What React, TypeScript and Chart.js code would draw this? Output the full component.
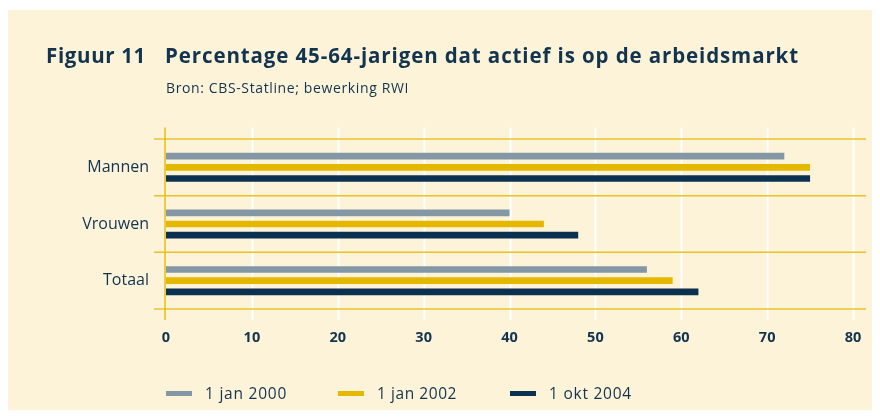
import { useEffect, useRef } from "react";
import { Chart, registerables } from "chart.js";

Chart.register(...registerables);

// ---- data ----
const categories = ["Mannen", "Vrouwen", "Totaal"];
const seriesLabels = ["1 jan 2000", "1 jan 2002", "1 okt 2004"];
const values2000 = [72, 40, 56];
const values2002 = [75, 44, 59];
const values2004 = [75, 48, 62];
const xTicks = [0, 10, 20, 30, 40, 50, 60, 70, 80];
const titleNumber = "Figuur 11";
const titleText = "Percentage 45-64-jarigen dat actief is op de arbeidsmarkt";
const sourceText = "Bron: CBS-Statline; bewerking RWI";

// ---- styles ----
const CREAM = "#FCF3D9";
const TEXT = "#12344F";
const GREY = "#8497A5";
const GOLD = "#E5B800";
const NAVY = "#0C3050";
const FONT = "'Open Sans', 'DejaVu Sans', sans-serif";
const W = 872;
const H = 408;

function fitText(ctx: CanvasRenderingContext2D, text: string, x: number, y: number, width: number) {
  ctx.save();
  (ctx as any).letterSpacing = "0px";
  let w = ctx.measureText(text).width;
  if (w < width && text.length > 1) {
    (ctx as any).letterSpacing = ((width - w) / text.length).toFixed(2) + "px";
    w = ctx.measureText(text).width;
  }
  const sx = w > 0 ? width / w : 1;
  ctx.translate(x, y);
  ctx.scale(sx, 1);
  ctx.fillText(text, 0, 0);
  ctx.restore();
}

const decorPlugin = {
  id: "decor",
  beforeDraw(chart: any) {
    const ctx: CanvasRenderingContext2D = chart.ctx;
    ctx.save();
    ctx.fillStyle = CREAM;
    ctx.fillRect(0, 0, chart.width, chart.height);

    ctx.fillStyle = TEXT;
    ctx.textAlign = "left";
    ctx.textBaseline = "alphabetic";
    ctx.font = `bold 20.5px ${FONT}`;
    fitText(ctx, titleNumber, 38, 53, 100);
    fitText(ctx, titleText, 157, 53, 634);
    ctx.font = `14px ${FONT}`;
    fitText(ctx, sourceText, 158, 83, 243);

    // legend
    const boxX = [158, 330, 502];
    const textX = [197, 369, 541];
    const textW = [82, 80, 83];
    ctx.font = `15.5px ${FONT}`;
    chart.data.datasets.forEach((ds: any, i: number) => {
      ctx.fillStyle = ds.backgroundColor;
      ctx.fillRect(boxX[i], 381, 26, 5);
      ctx.fillStyle = TEXT;
      fitText(ctx, ds.label, textX[i], 388.5, textW[i]);
    });
    ctx.restore();
  },
  beforeDatasetsDraw(chart: any) {
    const ctx: CanvasRenderingContext2D = chart.ctx;
    const { left, right, top, bottom } = chart.chartArea;
    const xs = chart.scales.x;
    const ys = chart.scales.y;
    ctx.save();
    // white vertical grid lines
    ctx.strokeStyle = "#FFFFFF";
    ctx.lineWidth = 2;
    xTicks.forEach((v) => {
      if (v === 0) return;
      const px = Math.round(xs.getPixelForValue(v)) + 0.5;
      ctx.beginPath();
      ctx.moveTo(px, top - 11.5);
      ctx.lineTo(px, bottom + 11);
      ctx.stroke();
    });
    // gold horizontal category separators
    const n = categories.length;
    const half = n > 1 ? (ys.getPixelForTick(1) - ys.getPixelForTick(0)) / 2 : (bottom - top) / 2;
    for (let i = 0; i <= n; i++) {
      const yy = i < n ? ys.getPixelForTick(i) - half : ys.getPixelForTick(n - 1) + half;
      const edge = i === 0 || i === n;
      ctx.strokeStyle = edge ? "rgba(229,184,0,0.6)" : "rgba(229,184,0,0.85)";
      ctx.lineWidth = edge ? 2 : 1.5;
      ctx.beginPath();
      ctx.moveTo(left - 12, yy);
      ctx.lineTo(right + 13, yy);
      ctx.stroke();
    }
    // gold vertical line at zero
    const x0 = xs.getPixelForValue(0) - 1;
    ctx.strokeStyle = "rgba(229,184,0,0.7)";
    ctx.lineWidth = 2;
    ctx.beginPath();
    ctx.moveTo(x0, top - 11.5);
    ctx.lineTo(x0, bottom + 11);
    ctx.stroke();
    ctx.restore();
  },
};

export default function App() {
  const ref = useRef<HTMLCanvasElement | null>(null);

  useEffect(() => {
    if (!ref.current) return;
    const colors = [GREY, GOLD, NAVY];
    const series = [values2000, values2002, values2004];
    const chart = new Chart(ref.current, {
      type: "bar",
      data: {
        labels: categories,
        datasets: series.map((data, i) => ({
          label: seriesLabels[i],
          data,
          backgroundColor: colors[i],
          borderWidth: 0,
          barPercentage: 0.6,
          categoryPercentage: 0.59,
        })),
      },
      options: {
        responsive: false,
        animation: false,
        indexAxis: "y",
        devicePixelRatio: 1,
        layout: { padding: { top: 129, left: 0, right: 27, bottom: 59 } },
        plugins: {
          legend: { display: false },
          title: { display: false },
          tooltip: { enabled: false },
        },
        scales: {
          x: {
            min: 0,
            max: 80,
            afterBuildTicks: (s: any) => {
              s.ticks = xTicks.map((v) => ({ value: v }));
            },
            grid: { display: false, drawTicks: false },
            border: { display: false },
            ticks: {
              padding: 20,
              maxRotation: 0,
              autoSkip: false,
              color: TEXT,
              font: { family: FONT, size: 14.5, weight: "bold" },
            },
            afterFit: (s: any) => {
              s.height = 50;
              s.paddingLeft = 0;
              s.paddingRight = 0;
            },
          },
          y: {
            grid: { display: false, drawTicks: false },
            border: { display: false },
            ticks: {
              padding: 17,
              color: TEXT,
              font: { family: FONT, size: 16 },
            },
            afterFit: (s: any) => {
              s.width = 158;
            },
          },
        },
      } as any,
      plugins: [decorPlugin],
    });
    return () => chart.destroy();
  }, []);

  return (
    <div style={{ paddingTop: 2, marginBottom: -8, width: W, height: H }}>
      <canvas ref={ref} width={W} height={H} style={{ display: "block", width: W, height: H }} />
    </div>
  );
}
